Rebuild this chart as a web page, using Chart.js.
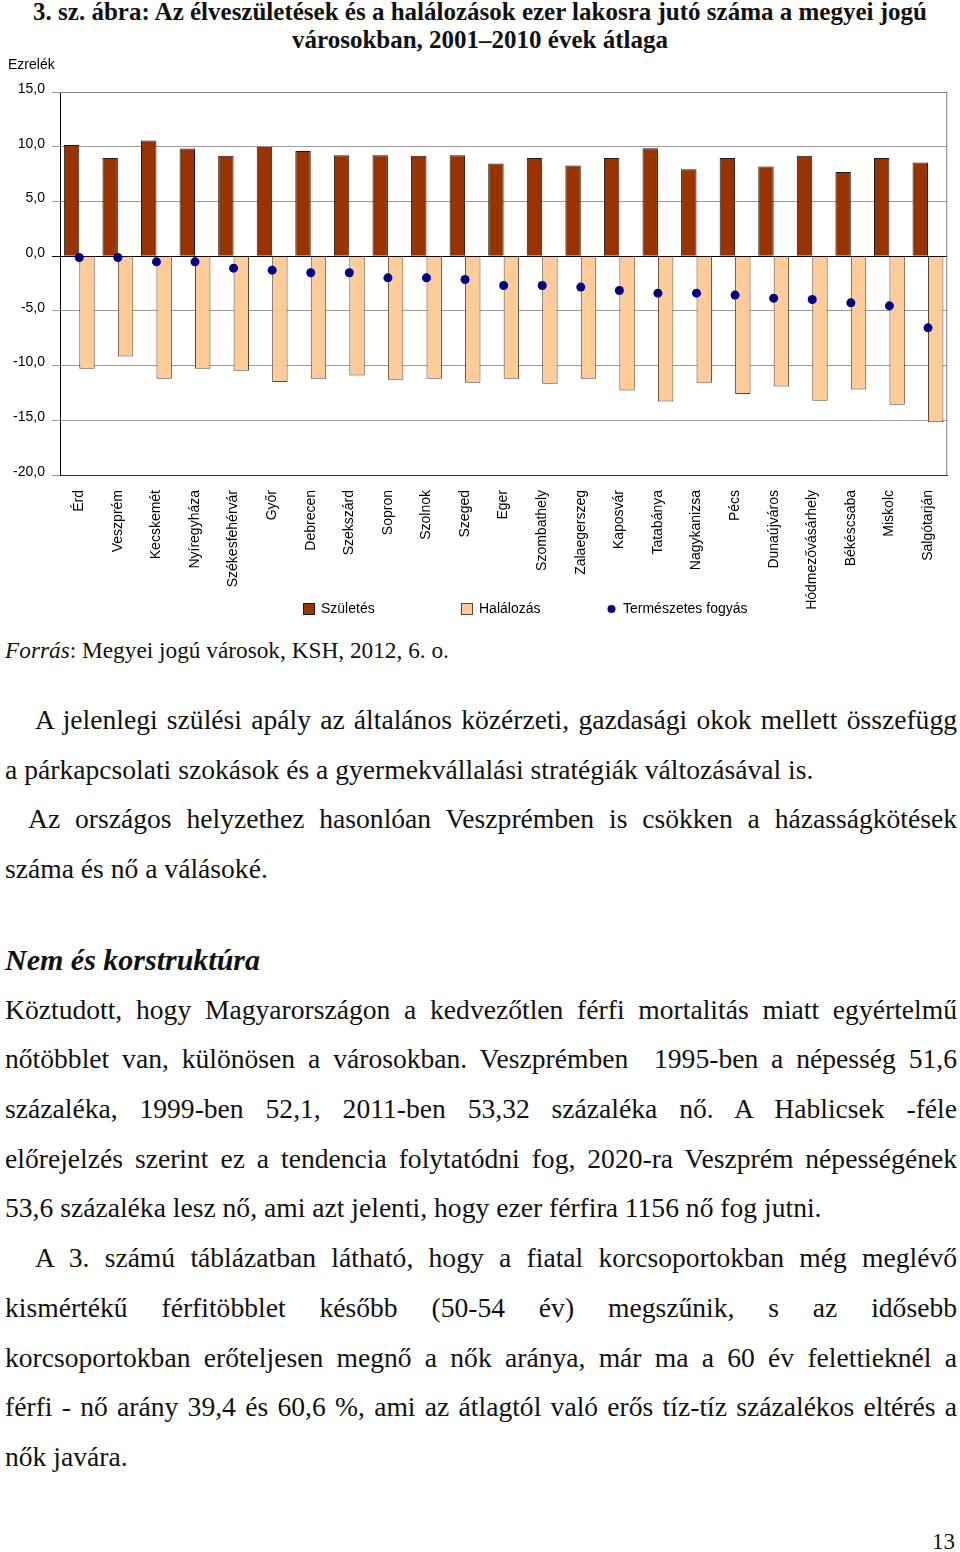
<!DOCTYPE html>
<html lang="hu">
<head>
<meta charset="utf-8">
<title>3. sz. ábra</title>
<script src="https://cdn.jsdelivr.net/npm/chart.js@4.4.0/dist/chart.umd.min.js"></script>
<style>
  html, body { margin: 0; padding: 0; background: #fff; }
  body { width: 960px; height: 1552px; position: relative; overflow: hidden; color: #111; font-family: "Liberation Serif", "DejaVu Serif", serif; }
  #title { position: absolute; left: 0; top: -2px; width: 960px; text-align: center; font-weight: bold; font-size: 25px; line-height: 28px; }
  #chart-box { position: absolute; left: 0; top: 55px; width: 960px; height: 575px; }
  #source { position: absolute; left: 5px; top: 636px; font-size: 23.3px; line-height: 28px; }
  .block { position: absolute; left: 5px; width: 952px; font-size: 27.6px; }
  .line { height: 49.7px; line-height: 49.7px; white-space: nowrap; }
  .j { text-align: justify; text-align-last: justify; white-space: normal; overflow: hidden; }
  h2 { margin: 0; font-size: 30px; font-weight: bold; font-style: italic; height: 49.7px; line-height: 49.7px; }
  #page-no { position: absolute; right: 5px; top: 1528px; font-size: 23px; line-height: 28px; }
</style>
</head>
<body>
<div id="title">3. sz. ábra: Az élveszületések és a halálozások ezer lakosra jutó száma a megyei jogú<br>városokban, 2001–2010 évek átlaga</div>

<div id="chart-box"><canvas id="chart"></canvas></div>

<div id="source"><i>Forrás</i>: Megyei jogú városok, KSH, 2012, 6. o.</div>

<div class="block" style="top:695px">
  <div class="line j" style="padding-left:30px">A jelenlegi szülési apály az általános közérzeti, gazdasági okok mellett összefügg</div>
  <div class="line">a párkapcsolati szokások és a gyermekvállalási stratégiák változásával is.</div>
  <div class="line j" style="padding-left:23px">Az országos helyzethez hasonlóan Veszprémben is csökken a házasságkötések</div>
  <div class="line">száma és nő a válásoké.</div>
</div>

<div class="block" style="top:935px">
  <h2>Nem és korstruktúra</h2>
  <div class="line j">Köztudott, hogy Magyarországon a kedvezőtlen férfi mortalitás miatt egyértelmű</div>
  <div class="line j">nőtöbblet van, különösen a városokban. Veszprémben&nbsp; 1995-ben a népesség 51,6</div>
  <div class="line j">százaléka, 1999-ben 52,1, 2011-ben 53,32 százaléka nő. A Hablicsek -féle</div>
  <div class="line j">előrejelzés szerint ez a tendencia folytatódni fog, 2020-ra Veszprém népességének</div>
  <div class="line">53,6 százaléka lesz nő, ami azt jelenti, hogy ezer férfira 1156 nő fog jutni.</div>
  <div class="line j" style="padding-left:30px">A 3. számú táblázatban látható, hogy a fiatal korcsoportokban még meglévő</div>
  <div class="line j">kismértékű férfitöbblet később (50-54 év) megszűnik, s az idősebb</div>
  <div class="line j">korcsoportokban erőteljesen megnő a nők aránya, már ma a 60 év felettieknél a</div>
  <div class="line j">férfi - nő arány 39,4 és 60,6 %, ami az átlagtól való erős tíz-tíz százalékos eltérés a</div>
  <div class="line">nők javára.</div>
</div>

<div id="page-no">13</div>

<script>
// ---- data (ezrelék, 2001–2010 átlag) ----
const cities = ["Érd", "Veszprém", "Kecskemét", "Nyíregyháza", "Székesfehérvár", "Győr", "Debrecen",
  "Szekszárd", "Sopron", "Szolnok", "Szeged", "Eger", "Szombathely", "Zalaegerszeg", "Kaposvár",
  "Tatabánya", "Nagykanizsa", "Pécs", "Dunaújváros", "Hódmezővásárhely", "Békéscsaba", "Miskolc", "Salgótarján"];
const births = [10.15, 8.96, 10.57, 9.84, 9.17, 9.99, 9.6, 9.23, 9.23, 9.17, 9.23, 8.47,
  8.96, 8.29, 8.96, 9.87, 7.95, 8.96, 8.2, 9.17, 7.68, 8.96, 8.56];
const deaths = [-10.3, -9.17, -11.2, -10.3, -10.48, -11.49, -11.2, -10.9, -11.3, -11.2, -11.58, -11.2,
  -11.67, -11.2, -12.28, -13.28, -11.58, -12.59, -11.91, -13.22, -12.19, -13.59, -15.17];
const naturalDecrease = [-0.12, -0.12, -0.52, -0.52, -1.1, -1.28, -1.52, -1.52, -1.98, -1.98, -2.13, -2.68,
  -2.68, -2.83, -3.14, -3.38, -3.38, -3.56, -3.84, -3.96, -4.27, -4.54, -6.55];
const seriesNames = ["Születés", "Halálozás", "Természetes fogyás"];
const yAxisUnit = "Ezrelék";

const sans = "'Liberation Sans', Arial, sans-serif";

// frame, unit label and the legend row under the axis labels
const extras = {
  id: "extras",
  beforeDatasetsDraw(chart) {
    const { ctx, chartArea: a } = chart;
    ctx.save();
    ctx.strokeStyle = "#808080";
    ctx.lineWidth = 1;
    ctx.beginPath();
    ctx.moveTo(a.left, a.top + 0.5);
    ctx.lineTo(a.right - 0.5, a.top + 0.5);
    ctx.lineTo(a.right - 0.5, a.bottom);
    ctx.stroke();
    ctx.restore();
  },
  afterDraw(chart) {
    const { ctx } = chart;
    ctx.save();
    ctx.font = "14px " + sans;
    ctx.fillStyle = "#000";
    ctx.textBaseline = "middle";
    ctx.fillText(yAxisUnit, 8, 10);

    const y = 553;
    const slots = [303, 461, 607];
    chart.data.datasets.forEach((ds, i) => {
      const x = slots[i];
      if (ds.type === "line") {
        ctx.fillStyle = ds.backgroundColor;
        ctx.beginPath();
        ctx.arc(x + 4.5, y + 1, 4, 0, Math.PI * 2);
        ctx.fill();
      } else {
        ctx.fillStyle = ds.backgroundColor;
        ctx.fillRect(x, y - 5, 12, 12);
        ctx.strokeStyle = ds.borderColor;
        ctx.strokeRect(x + 0.5, y - 4.5, 11, 11);
      }
      ctx.fillStyle = "#000";
      ctx.fillText(ds.label, x + (ds.type === "line" ? 16 : 18), y + 1);
    });
    ctx.restore();
  }
};

new Chart(document.getElementById("chart"), {
  type: "bar",
  data: {
    labels: cities,
    datasets: [
      {
        label: seriesNames[0],
        data: births,
        backgroundColor: "#993300",
        borderColor: "#1a1a1a",
        borderWidth: 1,
        categoryPercentage: 0.8,
        barPercentage: 1.0
      },
      {
        label: seriesNames[1],
        data: deaths,
        backgroundColor: "#ffcc99",
        borderColor: "#5a4632",
        borderWidth: 1,
        categoryPercentage: 0.8,
        barPercentage: 1.0
      },
      {
        type: "line",
        label: seriesNames[2],
        data: naturalDecrease,
        showLine: false,
        backgroundColor: "#000080",
        borderColor: "#000080",
        pointRadius: 4.5,
        pointBorderWidth: 0,
        order: -1
      }
    ]
  },
  options: {
    responsive: true,
    maintainAspectRatio: false,
    animation: false,
    layout: { padding: { top: 37, right: 10, left: 0, bottom: 0 } },
    plugins: {
      legend: { display: false },
      tooltip: { enabled: false }
    },
    scales: {
      x: {
        grid: { display: false, drawTicks: false },
        border: { display: true, color: "#333" },
        ticks: {
          autoSkip: false,
          minRotation: 90,
          maxRotation: 90,
          padding: 15,
          color: "#000",
          font: { family: sans, size: 14 }
        },
        afterFit(scale) { scale.height = 155; }
      },
      y: {
        min: -20,
        max: 15,
        ticks: {
          stepSize: 5,
          padding: 7,
          labelOffset: -3,
          color: "#000",
          font: { family: sans, size: 14 },
          callback: (v) => v.toFixed(1).replace(".", ",")
        },
        grid: {
          color: (c) => (c.tick && c.tick.value === 0 ? "#000" : "#9a9a9a"),
          tickLength: 8
        },
        border: { color: "#000" },
        afterFit(scale) { scale.width = 60; }
      }
    }
  },
  plugins: [extras]
});
</script>
</body>
</html>
